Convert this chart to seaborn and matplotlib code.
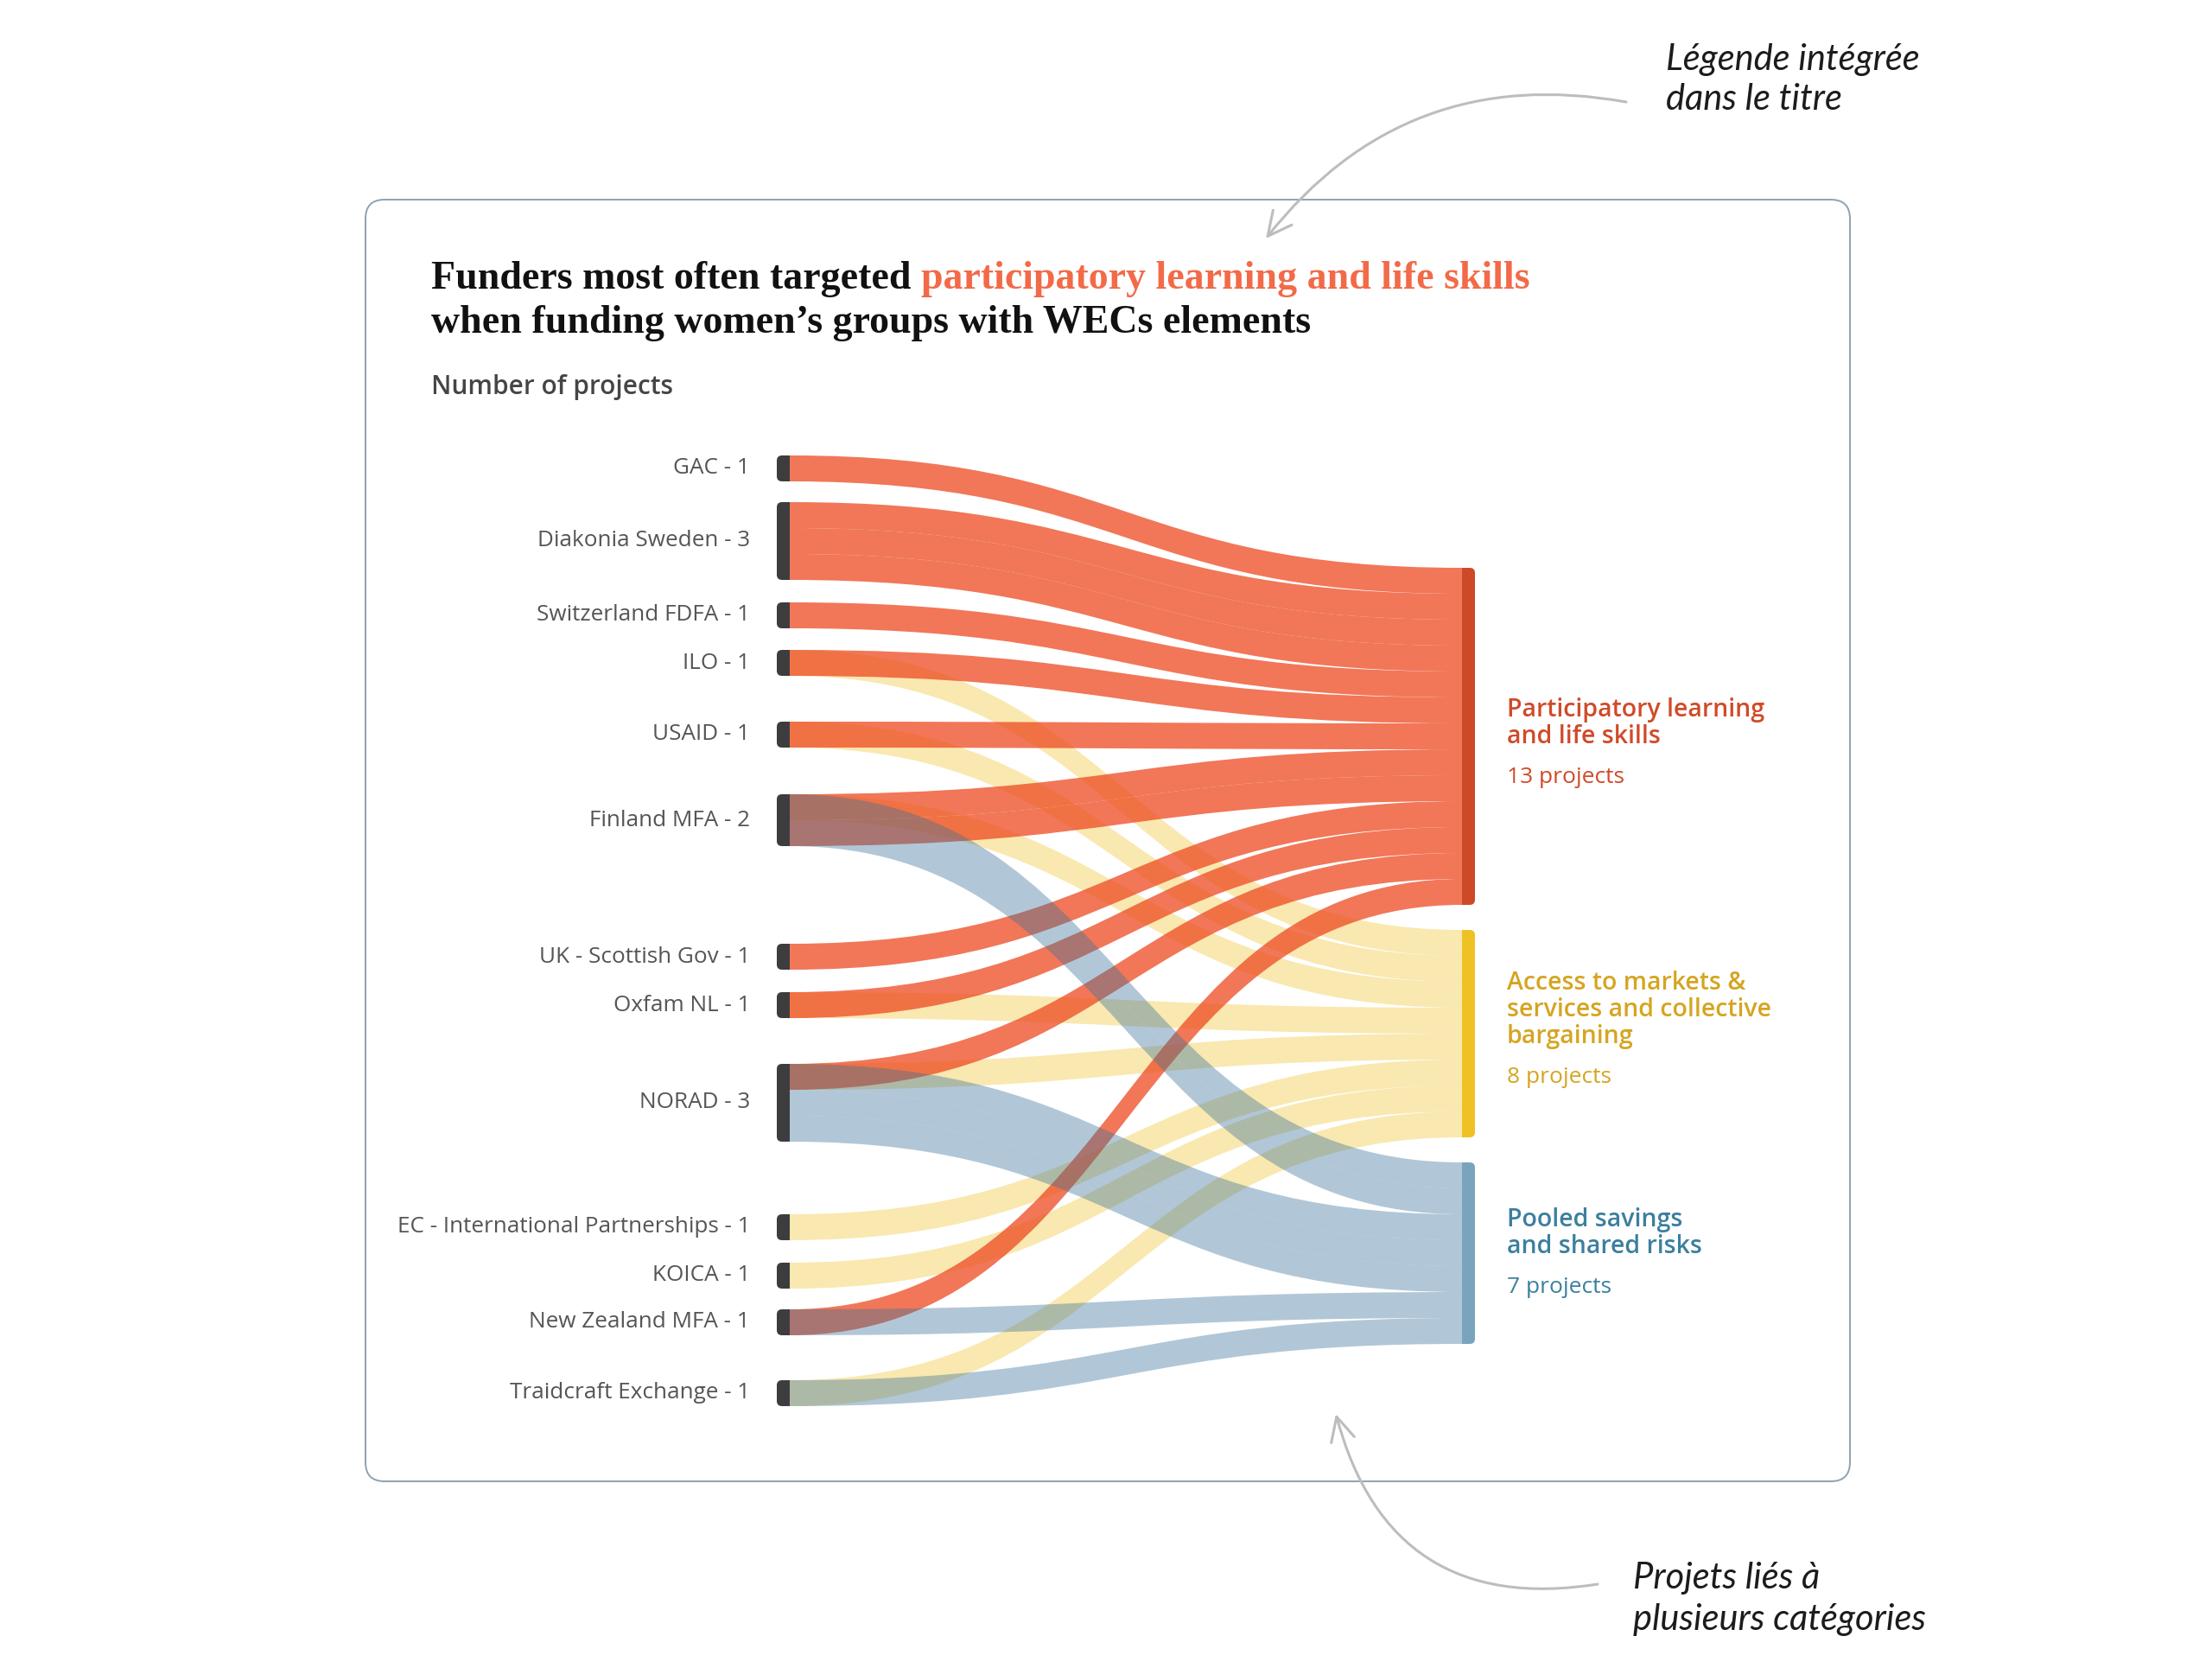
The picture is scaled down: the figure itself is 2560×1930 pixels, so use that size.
import matplotlib.pyplot as plt
import seaborn as sns
from matplotlib.path import Path
from matplotlib.patches import PathPatch, FancyBboxPatch, Rectangle, FancyArrowPatch

# data: funders and the number of projects linked to each category
funders = ["GAC", "Diakonia Sweden", "Switzerland FDFA", "ILO", "USAID", "Finland MFA",
           "UK - Scottish Gov", "Oxfam NL", "NORAD", "EC - International Partnerships",
           "KOICA", "New Zealand MFA", "Traidcraft Exchange"]
projects = [1, 3, 1, 1, 1, 2, 1, 1, 3, 1, 1, 1, 1]
participatory = [1, 3, 1, 1, 1, 2, 1, 1, 1, 0, 0, 1, 0]
access = [0, 0, 0, 1, 1, 1, 0, 1, 1, 1, 1, 0, 1]
pooled = [0, 0, 0, 0, 0, 2, 0, 0, 3, 0, 0, 1, 1]
categories = ["Participatory learning\nand life skills",
              "Access to markets &\nservices and collective\nbargaining",
              "Pooled savings\nand shared risks"]

# layout (pixels)
UNIT = 30
left_top = 527
left_gaps = [0, 24, 26, 25, 53, 54, 113, 26, 53, 84, 26, 24, 52]
right_top = 657
right_gap = 29
label_shift = [8, -4, 0]
x_left, x_right = 914, 1692
bar_w = 15

sns.set_theme(style="white")
plt.rcParams["font.family"] = ["Open Sans", "DejaVu Sans"]

fig = plt.figure(figsize=(25.6, 19.3), dpi=100)
ax = fig.add_axes([0, 0, 1, 1])
ax.set_xlim(0, 2560)
ax.set_ylim(1930, 0)
ax.set_axis_off()

flow_style = [("#ED4920", 0.75, 3), ("#F0BE1E", 0.35, 1), ("#3C739B", 0.40, 4)]
node_colors = ["#CC4A28", "#EFC125", "#78A4BE"]
label_colors = ["#D04A28", "#D5A520", "#3B7F9E"]

# frame
ax.add_patch(FancyBboxPatch((423, 231), 1718, 1483, boxstyle="round,pad=0,rounding_size=22",
                            ec="#8FA1B1", fc="none", lw=1.4))

# left node positions
tops = []
y = left_top
for i, n in enumerate(projects):
    y += left_gaps[i]
    tops.append(y)
    y += n * UNIT

# right node positions
series = [participatory, access, pooled]
totals = [sum(s) for s in series]
rtops = []
y = right_top
for t in totals:
    rtops.append(y)
    y += t * UNIT + right_gap


def flow(ys, yt, color, alpha, z):
    xm = (x_left + x_right) / 2
    verts = [(x_left, ys), (xm, ys), (xm, yt), (x_right, yt),
             (x_right, yt + UNIT), (xm, yt + UNIT), (xm, ys + UNIT), (x_left, ys + UNIT),
             (x_left, ys)]
    codes = [Path.MOVETO, Path.CURVE4, Path.CURVE4, Path.CURVE4,
             Path.LINETO, Path.CURVE4, Path.CURVE4, Path.CURVE4, Path.CLOSEPOLY]
    ax.add_patch(PathPatch(Path(verts, codes), fc=color, ec="none", alpha=alpha, zorder=z))


for c, s in enumerate(series):
    color, alpha, z = flow_style[c]
    slot = rtops[c]
    for i, n in enumerate(s):
        for k in range(n):
            flow(tops[i] + k * UNIT, slot, color, alpha, z)
            slot += UNIT

# left nodes and labels
for i, name in enumerate(funders):
    h = projects[i] * UNIT
    ax.add_patch(FancyBboxPatch((x_left - bar_w, tops[i]), bar_w - 4, h,
                                boxstyle="round,pad=0,rounding_size=6",
                                fc="#3D3D40", ec="none", zorder=6))
    ax.add_patch(Rectangle((x_left - 9, tops[i]), 9, h, fc="#3D3D40", ec="none", zorder=6))
    ax.text(868, tops[i] + h / 2, f"{name} - {projects[i]}", ha="right", va="center",
            fontsize=18.8, color="#555555")

# right nodes and labels
for c, cat in enumerate(categories):
    h = totals[c] * UNIT
    ax.add_patch(FancyBboxPatch((x_right + 4, rtops[c]), bar_w - 4, h,
                                boxstyle="round,pad=0,rounding_size=6",
                                fc=node_colors[c], ec="none", zorder=6))
    ax.add_patch(Rectangle((x_right, rtops[c]), 9, h, fc=node_colors[c], ec="none", zorder=6))
    lines = cat.split("\n")
    block = 31 * (len(lines) - 1) + 47
    y0 = rtops[c] + h / 2 - block / 2 + label_shift[c]
    for j, ln in enumerate(lines):
        ax.text(1744, y0 + 31 * j, ln, ha="left", va="center", fontsize=20.5,
                fontweight="semibold", color=label_colors[c])
    ax.text(1744, y0 + block, f"{totals[c]} projects", ha="left", va="center",
            fontsize=19, color=label_colors[c])

# title
serif = ["Liberation Serif", "DejaVu Serif"]
t1 = ax.text(499, 334, "Funders most often targeted ", ha="left", va="baseline",
             fontsize=33, fontweight="bold", family=serif, color="#111111")
ax.annotate("participatory learning and life skills", xy=(1, 0), xycoords=t1,
            ha="left", va="bottom", fontsize=33, fontweight="bold", family=serif,
            color="#F26A48")
ax.text(499, 385, "when funding women\u2019s groups with WECs elements", ha="left",
        va="baseline", fontsize=33, fontweight="bold", family=serif, color="#111111")
ax.text(499, 448, "Number of projects", ha="left", va="center", fontsize=21.5,
        fontweight="semibold", color="#454545")

# annotations
hand = dict(fontsize=30, style="italic", family=["Lato", "DejaVu Sans"],
            color="#1C1C1C", ha="left", va="center")
ax.text(1928, 69, "Légende intégrée", **hand)
ax.text(1928, 115, "dans le titre", **hand)
ax.text(1890, 1826, "Projets liés à", **hand)
ax.text(1890, 1874, "plusieurs catégories", **hand)

arrow_kw = dict(arrowstyle="->,head_length=0.9,head_width=0.45", mutation_scale=22,
                color="#BDBDBD", lw=2.2, shrinkA=0, shrinkB=0)
ax.add_patch(FancyArrowPatch((1882, 118), (1465, 276), connectionstyle="arc3,rad=0.3", **arrow_kw))
ax.add_patch(FancyArrowPatch((1849, 1833), (1546, 1636), connectionstyle="arc3,rad=-0.45", **arrow_kw))

fig.savefig("out.png", dpi=100, facecolor="white")
